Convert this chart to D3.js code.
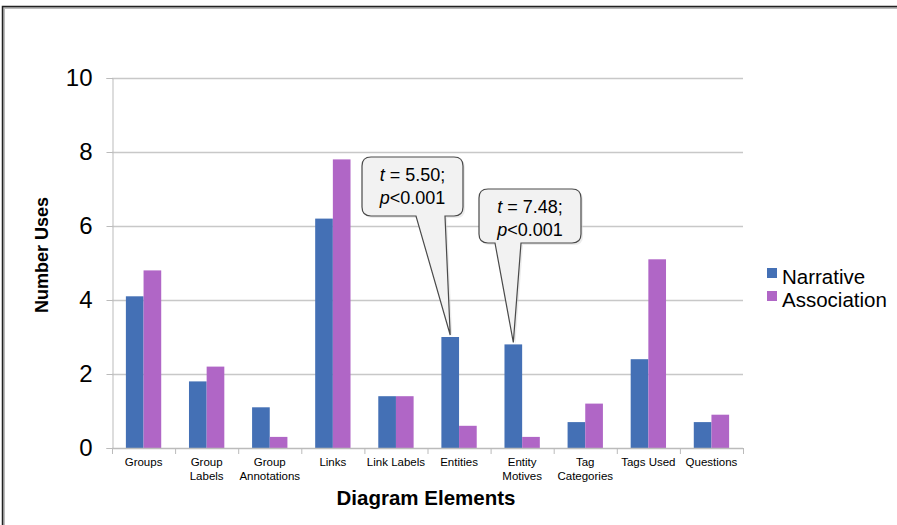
<!DOCTYPE html>
<html><head><meta charset="utf-8">
<script src="https://cdn.jsdelivr.net/npm/d3@7"></script>
<style>body{margin:0;background:#fff;}svg{display:block;font-family:"Liberation Sans",Arial,sans-serif;}</style>
</head><body><svg id="c" width="897" height="525"></svg>
<script>
const categories = [["Groups"],["Group","Labels"],["Group","Annotations"],["Links"],["Link Labels"],["Entities"],["Entity","Motives"],["Tag","Categories"],["Tags Used"],["Questions"]];
const seriesNames = ["Narrative","Association"];
const narrative = [4.1,1.8,1.1,6.2,1.4,3.0,2.8,0.7,2.4,0.7];
const association = [4.8,2.2,0.3,7.8,1.4,0.6,0.3,1.2,5.1,0.9];
const yTicks = [0,2,4,6,8,10];
const callouts = [{cat:5, lines:["5.50;","<0.001"]},{cat:6, lines:["7.48;","<0.001"]}];
const colors = ["#4470B5","#B066C6"];

const svg = d3.select("#c");
// frame
svg.append("rect").attr("x",4).attr("y",8).attr("width",1000).attr("height",600).attr("fill","none").attr("stroke","#bbb").attr("stroke-width",2);
svg.append("rect").attr("x",2.5).attr("y",6.5).attr("width",1000).attr("height",600).attr("fill","none").attr("stroke","#222").attr("stroke-width",1.5);

const L=112, R=743, T=78, B=448;
const x = d3.scaleBand().domain(d3.range(categories.length)).range([L,R]).paddingInner(0.44).paddingOuter(0.22);
const xs = d3.scaleBand().domain(seriesNames).range([0,x.bandwidth()]);
const y = d3.scaleLinear().domain([0,10]).range([B,T]);

// gridlines
svg.append("g").selectAll("line").data(yTicks.slice(1)).join("line")
  .attr("x1",L).attr("x2",R).attr("y1",d=>y(d)+0.5).attr("y2",d=>y(d)+0.5).attr("stroke","#c8c8c8").attr("stroke-width",1.3);

// y axis
const ya = svg.append("g").attr("transform",`translate(${L+0.5},0)`).call(d3.axisLeft(y).tickValues(yTicks).tickSize(6).tickPadding(14));
ya.select(".domain").attr("stroke","#bbb");
ya.selectAll(".tick line").attr("stroke","#bbb");
ya.selectAll("text").attr("font-size",24).attr("fill","#000").attr("font-family","Liberation Sans, Arial");

// bars
const data = categories.map((c,i)=>({i, vals:[narrative[i],association[i]]}));
const g = svg.append("g");
data.forEach(d=>{
  d.vals.forEach((v,k)=>{
    g.append("rect").attr("x",x(d.i)+xs(seriesNames[k])).attr("width",xs.bandwidth())
      .attr("y",y(v)).attr("height",y(0)-y(v)).attr("fill",colors[k]);
  });
});

// x axis
const step = (R-L)/categories.length;
const xa = svg.append("g");
xa.append("line").attr("x1",L).attr("x2",R).attr("y1",B+0.5).attr("y2",B+0.5).attr("stroke","#bbb").attr("stroke-width",1.3);
xa.selectAll("line.tk").data(d3.range(categories.length+1)).join("line").attr("class","tk")
  .attr("x1",i=>L+i*step+0.5).attr("x2",i=>L+i*step+0.5).attr("y1",B).attr("y2",B+6).attr("stroke","#bbb");
categories.forEach((c,i)=>{
  const t = xa.append("text").attr("text-anchor","middle").attr("font-size",11.5).attr("fill","#000");
  c.forEach((s,j)=>t.append("tspan").attr("x",x(i)+x.bandwidth()/2).attr("y",B+18+j*14).text(s));
});

// axis titles
svg.append("text").attr("transform","translate(48,255) rotate(-90)").attr("text-anchor","middle")
  .attr("font-size",18).attr("font-weight","bold").text("Number Uses");
svg.append("text").attr("x",426).attr("y",505).attr("text-anchor","middle")
  .attr("font-size",20.5).attr("font-weight","bold").text("Diagram Elements");

// legend
seriesNames.forEach((s,k)=>{
  svg.append("rect").attr("x",767).attr("y",268+k*23).attr("width",10).attr("height",10).attr("fill",colors[k]);
  svg.append("text").attr("x",782).attr("y",284+k*23).attr("font-size",20.5).attr("fill","#000").text(s);
});

// callouts
const boxes = [{x0:362,y0:157,w:101,h:59,tl:416,tr:445},{x0:479,y0:189,w:102,h:54,tl:495,tr:521}];
callouts.forEach((c,k)=>{
  const b = boxes[k];
  const px = x(c.cat)+xs.bandwidth()/2, py = y(narrative[c.cat])-2;
  const r=9;
  const p = d3.path();
  p.moveTo(b.x0+r,b.y0); p.lineTo(b.x0+b.w-r,b.y0); p.quadraticCurveTo(b.x0+b.w,b.y0,b.x0+b.w,b.y0+r);
  p.lineTo(b.x0+b.w,b.y0+b.h-r); p.quadraticCurveTo(b.x0+b.w,b.y0+b.h,b.x0+b.w-r,b.y0+b.h);
  p.lineTo(b.tr,b.y0+b.h); p.lineTo(px,py); p.lineTo(b.tl,b.y0+b.h);
  p.lineTo(b.x0+r,b.y0+b.h); p.quadraticCurveTo(b.x0,b.y0+b.h,b.x0,b.y0+b.h-r);
  p.lineTo(b.x0,b.y0+r); p.quadraticCurveTo(b.x0,b.y0,b.x0+r,b.y0); p.closePath();
  svg.append("path").attr("d",p.toString()).attr("fill","#d8d8d8").attr("opacity",0.5).attr("transform","translate(2,2)");
  svg.append("path").attr("d",p.toString()).attr("fill","#f2f2f2").attr("stroke","#4a4a4a").attr("stroke-width",1.2);
  const cx = b.x0 + b.w/2;
  const t1 = svg.append("text").attr("x",cx).attr("y",b.y0+24).attr("text-anchor","middle").attr("font-size",18).attr("fill","#000");
  t1.append("tspan").attr("font-style","italic").text("t");
  t1.append("tspan").text(" = "+c.lines[0]);
  const t2 = svg.append("text").attr("x",cx).attr("y",b.y0+47).attr("text-anchor","middle").attr("font-size",18).attr("fill","#000");
  t2.append("tspan").attr("font-style","italic").text("p");
  t2.append("tspan").text(c.lines[1]);
});
</script></body></html>
